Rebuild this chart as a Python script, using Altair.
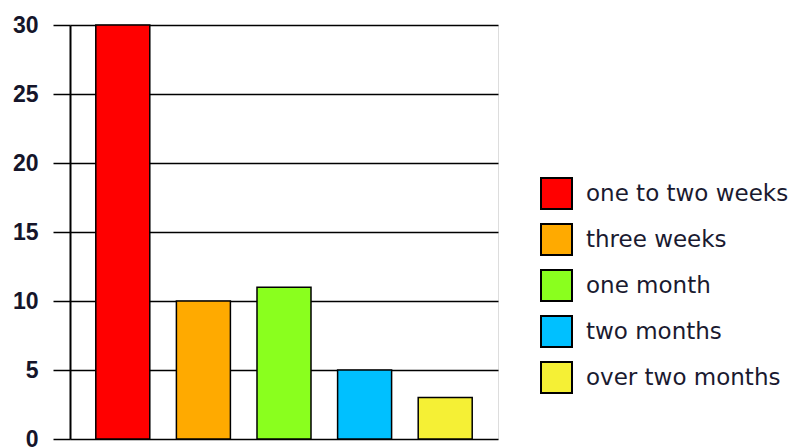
import altair as alt
import pandas as pd

# Durations and how many responses fell into each
categories = ["one to two weeks", "three weeks", "one month", "two months", "over two months"]
counts = [30, 10, 11, 5, 3]
colors = ["#FF0000", "#FFAA00", "#8AFF1E", "#00C0FF", "#F5F035"]

df = pd.DataFrame({"duration": categories, "count": counts})

bars = alt.Chart(df).mark_bar(stroke="black", strokeWidth=1.5).encode(
    x=alt.X(
        "duration:N",
        sort=categories,
        scale=alt.Scale(paddingInner=0.33, paddingOuter=0.32),
        axis=None,
    ),
    y=alt.Y(
        "count:Q",
        scale=alt.Scale(domain=[0, 30], nice=False),
        axis=alt.Axis(
            values=[0, 5, 10, 15, 20, 25, 30],
            title=None,
            grid=True,
            gridColor="black",
            gridWidth=1.5,
            gridOpacity=1,
            tickSize=17,
            tickColor="black",
            tickWidth=1.5,
            domainColor="black",
            domainWidth=2,
            labelFont="Liberation Sans",
            labelFontWeight="bold",
            labelFontSize=23,
            labelColor="#15152a",
            labelPadding=15,
        ),
    ),
    color=alt.Color(
        "duration:N",
        sort=categories,
        scale=alt.Scale(domain=categories, range=colors),
        legend=alt.Legend(
            title=None,
            orient="none",
            legendX=470,
            legendY=152,
            symbolType="square",
            symbolSize=961,
            symbolStrokeColor="black",
            symbolStrokeWidth=2,
            symbolOpacity=1,
            labelFont="DejaVu Sans",
            labelFontSize=23,
            labelColor="#1a1a30",
            labelOffset=13,
            labelLimit=400,
            rowPadding=7,
            padding=0,
        ),
    ),
)

chart = bars.properties(
    width=428,
    height=414,
    autosize=alt.AutoSizeParams(type="none"),
    padding={"left": 70, "top": 25, "right": 290, "bottom": 8},
).configure_view(
    stroke="black",
    strokeWidth=2,
).configure(background="white")

chart.save("out.html", embed_options={"renderer": "svg", "actions": False})
